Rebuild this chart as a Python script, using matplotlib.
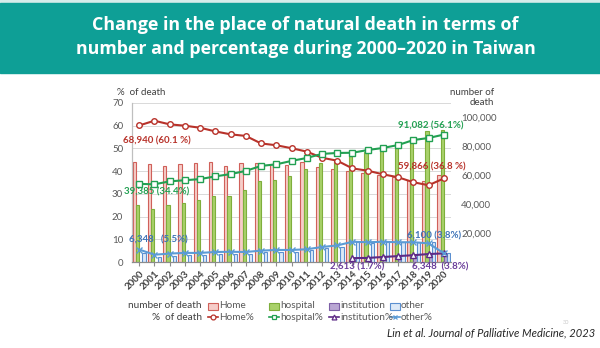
"""Place of natural death in Taiwan, 2000-2020: counts (bars) and shares (lines)."""

import matplotlib.pyplot as plt
import numpy as np
from matplotlib.lines import Line2D
from matplotlib.patches import Rectangle

YEARS = [str(y) for y in range(2000, 2021)]

# number of deaths by place
HOME_N = [68940, 67600, 66500, 67800, 68500, 69300, 66100, 68500, 68600, 68000,
          67300, 69000, 65800, 64600, 63300, 61600, 60400, 58500, 56900, 56200, 59866]
HOSPITAL_N = [39385, 37000, 39400, 40700, 42600, 45800, 45800, 49500, 55800, 56400,
              59700, 64500, 68300, 69700, 73600, 76300, 78200, 79400, 84700, 90500, 91082]
INSTITUTION_N = [np.nan] * 14 + [2613, 2800, 3400, 4100, 4900, 5800, 6348]
OTHER_N = [6348, 3600, 4100, 4500, 4600, 5300, 5300, 5400, 6600, 7000,
           7100, 8000, 9500, 10600, 13700, 13300, 13900, 13600, 14100, 13600, 6100]

# percentage of deaths by place
HOME_PCT = [60.1, 62.2, 60.6, 60.0, 59.1, 57.5, 56.2, 55.5, 52.2, 51.4,
            50.1, 48.6, 45.9, 44.6, 41.2, 40.2, 38.6, 37.3, 35.1, 33.8, 36.8]
HOSPITAL_PCT = [34.4, 34.2, 35.5, 36.0, 36.5, 37.7, 38.7, 40.1, 42.3, 43.0,
                44.5, 45.8, 47.6, 48.0, 48.1, 49.3, 50.2, 51.5, 53.7, 54.6, 56.1]
INSTITUTION_PCT = [np.nan] * 14 + [1.7, 1.8, 2.2, 2.6, 3.0, 3.5, 3.8]
OTHER_PCT = [5.5, 3.2, 3.7, 4.0, 4.0, 4.4, 4.5, 4.4, 5.0, 5.3,
             5.3, 5.6, 6.6, 7.3, 8.9, 8.7, 8.9, 8.7, 8.7, 8.2, 3.8]

LABELS = ["Home", "hospital", "institution", "other"]
BAR_FILL = ["#f6cdc9", "#a9d16a", "#b9a6d3", "#dde9f7"]
BAR_EDGE = ["#d0605a", "#7fae3c", "#7d5fa6", "#5b8fd0"]
LINE_COLOR = ["#b8322a", "#22a052", "#5d2a86", "#5b9bd5"]
MARKERS = ["o", "s", "^", "x"]

TEAL = "#0e9f96"
TEXT_GRAY = "#595959"

plt.rcParams["font.family"] = ["Lato", "DejaVu Sans"]

fig = plt.figure(figsize=(6, 3.48), dpi=100)
W, H = 600, 348


def fx(px):
    return px / W


def fy(py):
    return 1 - py / H


# header banner
fig.patches.append(Rectangle((0, fy(3)), 1, 3 / H, transform=fig.transFigure,
                             color="#d6ecea", zorder=0))
fig.patches.append(Rectangle((0, fy(73)), 1, fy(3) - fy(73), transform=fig.transFigure,
                             color=TEAL, zorder=0))
fig.text(fx(305), fy(25), "Change in the place of natural death in terms of",
         ha="center", va="center", color="white", fontsize=12.9,
         fontweight="bold", family="Open Sans")
fig.text(fx(306), fy(49), "number and percentage during 2000\u20132020 in Taiwan",
         ha="center", va="center", color="white", fontsize=12.8,
         fontweight="bold", family="Open Sans")

# chart area: ax holds the percentages, ax2 (below it) the counts
ax = fig.add_axes([fx(131.5), 86 / H, 320 / W, 159 / H])
ax2 = ax.twinx()
ax.set_zorder(ax2.get_zorder() + 1)
ax.patch.set_visible(False)

x = np.arange(len(YEARS))
width = 0.21
counts = [HOME_N, HOSPITAL_N, INSTITUTION_N, OTHER_N]
for i, vals in enumerate(counts):
    ax2.bar(x + (i - 1.5) * width, vals, width=width, color=BAR_FILL[i],
            edgecolor=BAR_EDGE[i], linewidth=0.8, zorder=2)

pcts = [HOME_PCT, HOSPITAL_PCT, INSTITUTION_PCT, OTHER_PCT]
for i, vals in enumerate(pcts):
    ax.plot(x, vals, color=LINE_COLOR[i], lw=1.5, marker=MARKERS[i], ms=4,
            mfc="white" if MARKERS[i] != "x" else LINE_COLOR[i],
            mec=LINE_COLOR[i], mew=1.0, zorder=3)

ax.set_xlim(-0.5, len(YEARS) - 0.5)
ax.set_ylim(0, 70)
ax2.set_ylim(0, 110000)

# horizontal grid behind the bars
pct_ticks = np.arange(10, 71, 10)
ax2.hlines(pct_ticks, -0.5, len(YEARS) - 0.5, transform=ax.transData,
           color="#d9d9d9", lw=0.7, zorder=0)

ax.set_yticks(np.arange(0, 71, 10))
ax.tick_params(axis="y", length=0, labelsize=7, labelcolor=TEXT_GRAY, pad=6)
ax.set_xticks(x)
ax.set_xticklabels(YEARS, rotation=45, ha="right", rotation_mode="anchor",
                   fontsize=7, fontweight="bold", color="#404040")
ax.tick_params(axis="x", length=3, color="#8c8c8c", pad=2)

ax2.set_yticks(np.arange(20000, 100001, 20000))
ax2.set_yticklabels([f"{v:,}" for v in range(20000, 100001, 20000)])
ax2.tick_params(axis="y", length=0, labelsize=7, labelcolor=TEXT_GRAY, pad=7)

for a in (ax, ax2):
    for side in ("top", "right"):
        a.spines[side].set_visible(False)
    a.spines["left"].set_color("#bfbfbf")
    a.spines["bottom"].set_color("#8c8c8c")

ax.text(-1.45, 74.5, "%  of death", fontsize=7, color="#404040", ha="left", va="center")
fig.text(fx(494), fy(93), "number of", fontsize=7, color="#404040", ha="right", va="center")
fig.text(fx(494), fy(103), "death", fontsize=7, color="#404040", ha="right", va="center")


# value call-outs
def callout(xi, y, text, color, ha="left"):
    ax.text(xi, y, text, color=color, fontsize=7, fontweight="bold", ha=ha,
            va="center", zorder=5, clip_on=False)


callout(-1.05, 53.3, f"{HOME_N[0]:,} ({HOME_PCT[0]} %)", "#b8322a")
callout(-0.98, 30.7, f"{HOSPITAL_N[0]:,} ({HOSPITAL_PCT[0]}%)", "#22a052")
callout(-0.65, 9.5, f"{OTHER_N[0]:,}   ({OTHER_PCT[0]}%)", "#3e74b8")
callout(21.3, 60.0, f"{HOSPITAL_N[-1]:,} ({HOSPITAL_PCT[-1]}%)", "#22a052", ha="right")
callout(21.45, 41.7, f"{HOME_N[-1]:,} ({HOME_PCT[-1]} %)", "#b8322a", ha="right")
callout(21.1, 11.4, f"{OTHER_N[-1]:,} ({OTHER_PCT[-1]}%)", "#3e74b8", ha="right")
callout(12.55, -2.4, f"{INSTITUTION_N[14]:,} ({INSTITUTION_PCT[14]}%)", "#6a3d9a")
callout(17.9, -2.4, f"{INSTITUTION_N[-1]:,}  ({INSTITUTION_PCT[-1]}%)", "#6a3d9a")

# legend rows
row_y = [fy(306), fy(317)]
fig.text(fx(202), row_y[0], "number of death", fontsize=7.2, color="#404040",
         ha="right", va="center")
fig.text(fx(202), row_y[1], "%  of death", fontsize=7.2, color="#404040",
         ha="right", va="center")
entry_x = [208, 269, 329, 390]
for i, label in enumerate(LABELS):
    x0 = entry_x[i]
    fig.patches.append(Rectangle((fx(x0), row_y[0] - 3.5 / H), fx(10), 7 / H,
                                 transform=fig.transFigure, facecolor=BAR_FILL[i],
                                 edgecolor=BAR_EDGE[i], lw=0.8))
    fig.text(fx(x0 + 11), row_y[0], label, fontsize=7.2, color=TEXT_GRAY,
             ha="left", va="center")
    fig.lines.append(Line2D([fx(x0), fx(x0 + 10)], [row_y[1], row_y[1]],
                            transform=fig.transFigure, color=LINE_COLOR[i], lw=1.2))
    fig.lines.append(Line2D([fx(x0 + 5)], [row_y[1]], transform=fig.transFigure,
                            marker=MARKERS[i], ms=3.5, color=LINE_COLOR[i],
                            mfc="white" if MARKERS[i] != "x" else LINE_COLOR[i],
                            mec=LINE_COLOR[i], mew=0.9))
    fig.text(fx(x0 + 11), row_y[1], label + "%", fontsize=7.2, color=TEXT_GRAY,
             ha="left", va="center")

fig.text(fx(595), fy(333), "Lin et al. Journal of Palliative Medicine, 2023",
         fontsize=8, style="italic", color="#262626", ha="right", va="center")
fig.text(fx(566), fy(322), "30", fontsize=4, color="#c8c8c8", ha="center", va="center")

fig.savefig("out.png", dpi=100)
